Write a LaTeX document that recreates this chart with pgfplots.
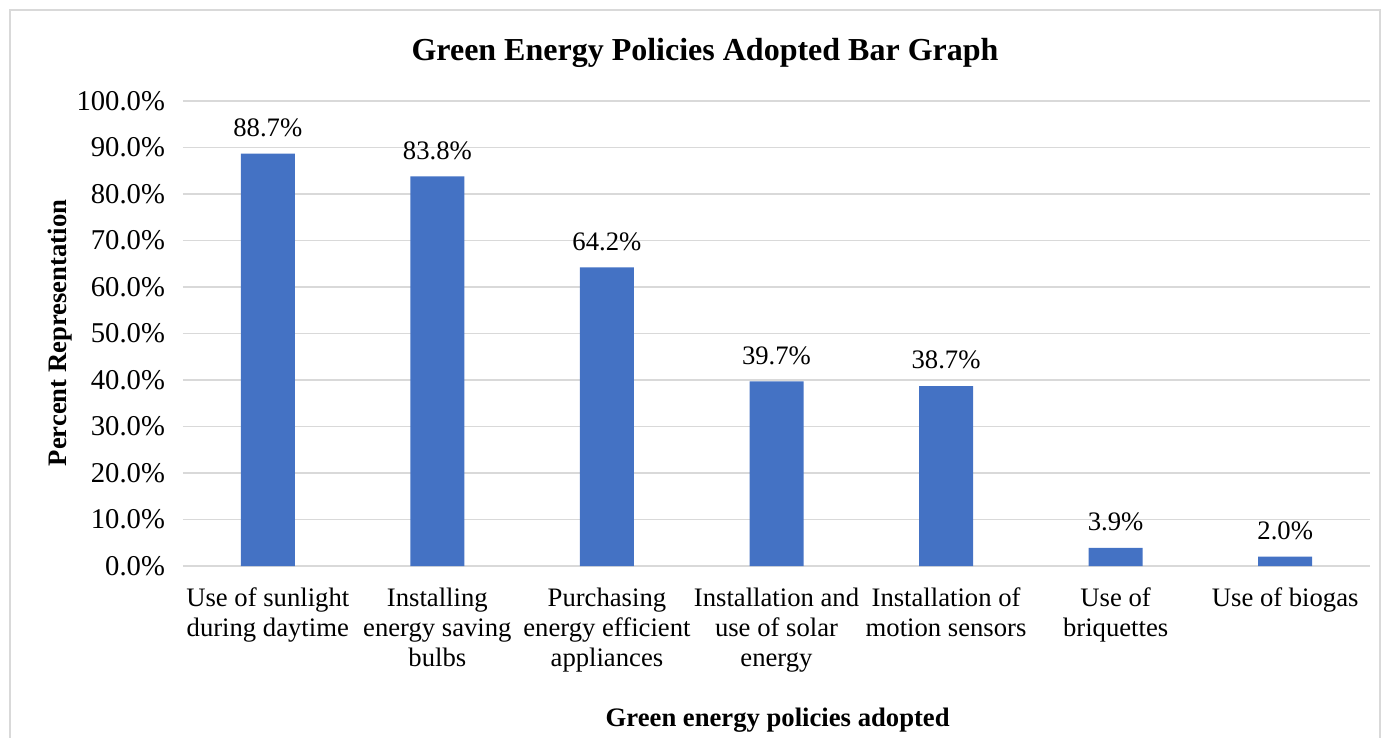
\documentclass[border=0pt]{standalone}
\usepackage{pgfplots}
\pgfplotsset{compat=1.18}
\usepackage{fontspec}
\setmainfont{Liberation Serif}
\definecolor{barblue}{HTML}{4472C4}
\definecolor{gridgray}{HTML}{D9D9D9}
\begin{document}
\begin{tikzpicture}[x=1pt,y=1pt]
\useasboundingbox (-137.25,-129) rectangle (903,424.5);
\draw[gridgray, line width=0.8pt] (-129.75,-140) -- (-129.75,417) -- (897.75,417) -- (897.75,-140);
\begin{axis}[
  at={(0,0)}, anchor=south west,
  scale only axis,
  width=890.25pt, height=348.75pt,
  ybar, bar width=40.5pt,
  xmin=-0.5, xmax=6.5,
  ymin=0, ymax=100,
  ytick={0,10,...,100},
  xtick={0,...,6},
  xticklabels={{Use of sunlight\\during daytime},{Installing\\energy saving\\bulbs},{Purchasing\\energy efficient\\appliances},{Installation and\\use of solar\\energy},{Installation of\\motion sensors},{Use of\\briquettes},{Use of biogas}},
  xticklabel style={align=center, font=\fontsize{20}{22.5}\selectfont, anchor=north, yshift=-13pt},
  yticklabel style={font=\fontsize{21.5}{24}\selectfont, xshift=-10pt},
  yticklabel={\pgfmathprintnumber[fixed,fixed zerofill,precision=1]{\tick}\%},
  /pgf/number format/assume math mode=true,
  ymajorgrids, grid style={gridgray, line width=0.8pt},
  axis lines*=left,
  x axis line style={draw=gridgray, line width=0.8pt, -},
  y axis line style={draw=none},
  major tick length=0pt,
  tick style={draw=none},
  nodes near coords={\pgfmathprintnumber[fixed,fixed zerofill,precision=1]{\pgfplotspointmeta}\%},
  nodes near coords style={font=\fontsize{20}{22.5}\selectfont, yshift=9pt},
  clip=false,
]
\addplot[fill=barblue, draw=none] coordinates {(0,88.7) (1,83.8) (2,64.2) (3,39.7) (4,38.7) (5,3.9) (6,2.0)};
\end{axis}
\node[font=\fontsize{24}{28}\selectfont\bfseries] at (391.5,385) {Green Energy Policies Adopted Bar Graph};
\node[font=\fontsize{20}{24}\selectfont\bfseries, rotate=90] at (-92,174.75) {Percent Representation};
\node[font=\fontsize{20}{24}\selectfont\bfseries] at (446,-115.5) {Green energy policies adopted};
\end{tikzpicture}
\end{document}
